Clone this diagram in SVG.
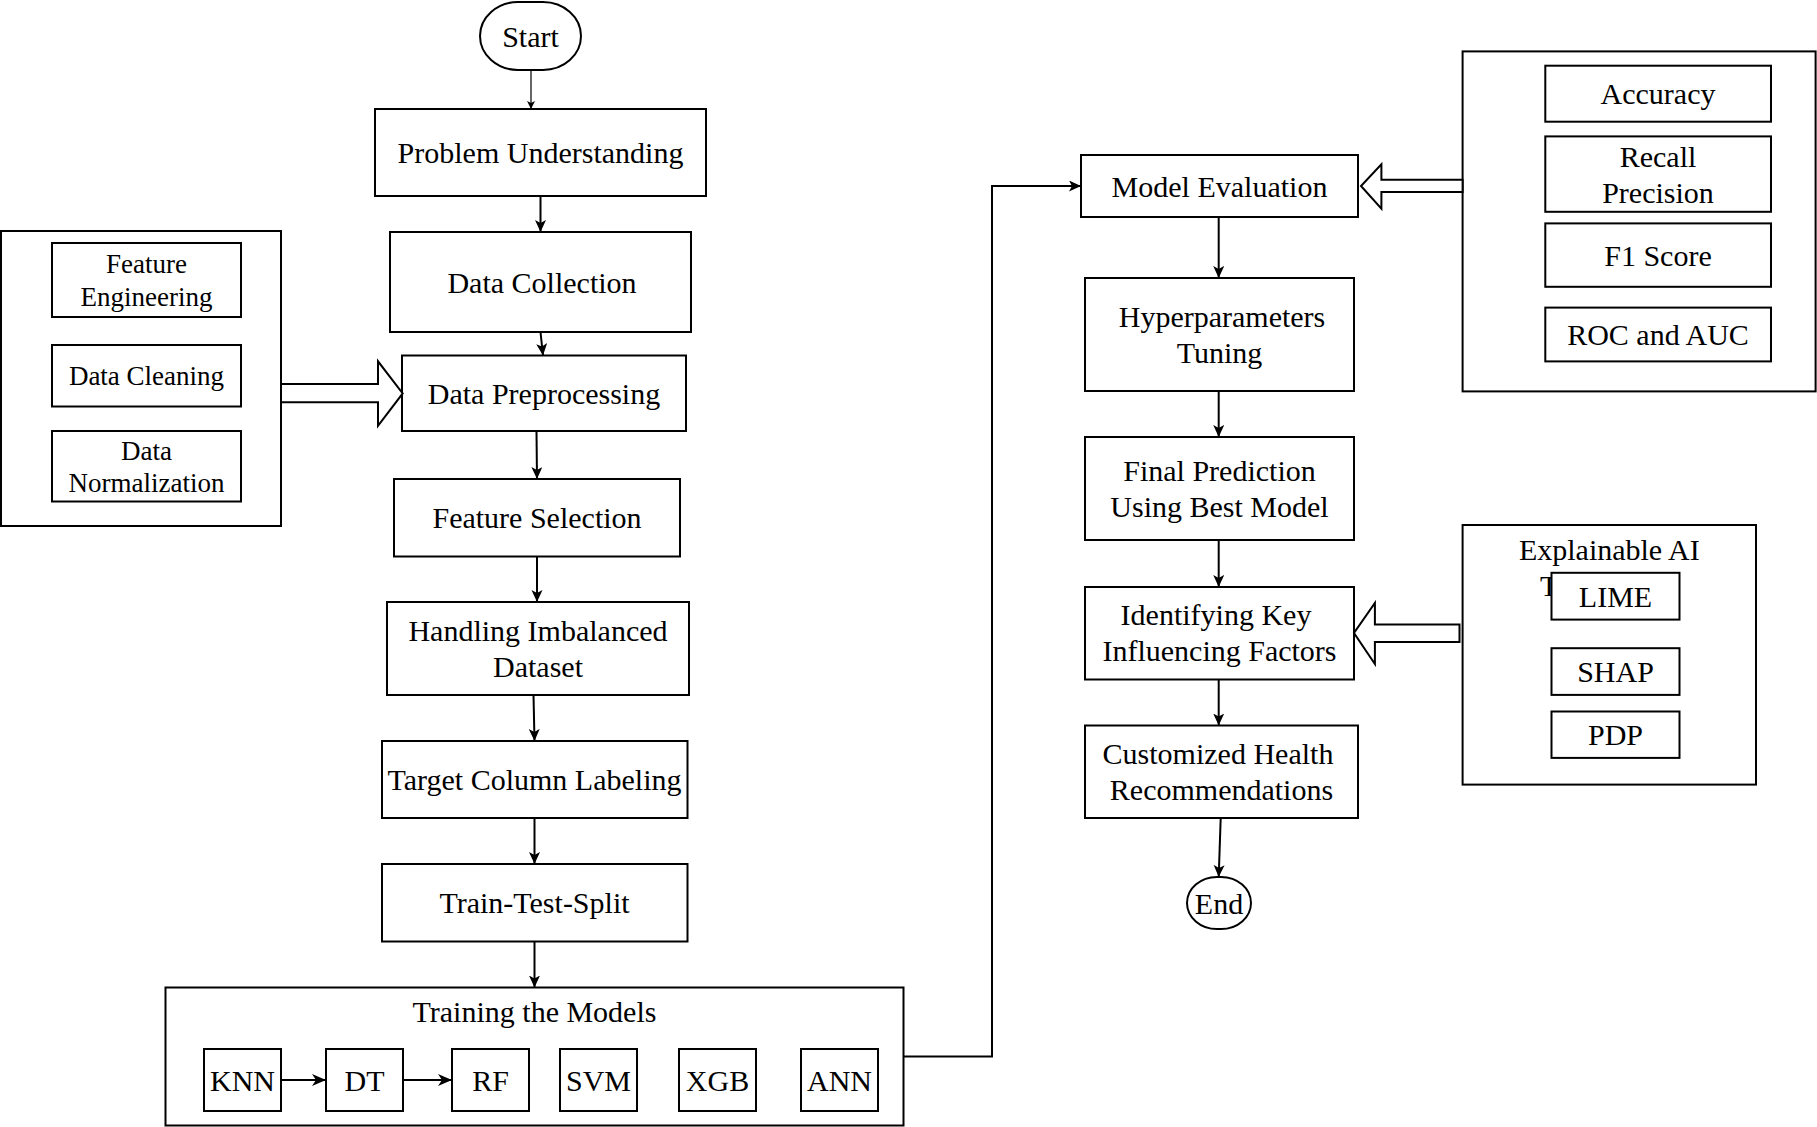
<svg xmlns="http://www.w3.org/2000/svg" width="1817" height="1127" viewBox="0 0 1817 1127">
<style>
.b{fill:#fff;stroke:#000;stroke-width:2}
.t{font-family:"Liberation Serif","Times New Roman",serif;font-size:30px;fill:#000;text-anchor:middle}
.s{font-size:27px}
.c{fill:none;stroke:#000;stroke-width:2}
.thin{fill:none;stroke:#000;stroke-width:1.2}
.h{fill:#fff;stroke:#000;stroke-width:2;stroke-linejoin:miter}
</style>
<defs>
<marker id="a" markerUnits="userSpaceOnUse" markerWidth="13" markerHeight="12" refX="12" refY="5.5" orient="auto">
<path d="M0,0 L12,5.5 L0,11 L3,5.5 Z" fill="#000"/>
</marker>
<marker id="as" markerUnits="userSpaceOnUse" markerWidth="9" markerHeight="9" refX="8" refY="4" orient="auto">
<path d="M0,0 L8,4 L0,8 L2,4 Z" fill="#000"/>
</marker>
<marker id="al" markerUnits="userSpaceOnUse" markerWidth="15" markerHeight="13" refX="14" refY="6" orient="auto">
<path d="M0,0 L14,6 L0,12 L4,6 Z" fill="#000"/>
</marker>
</defs>

<g id="start"><rect class="b" x="480" y="2" width="101" height="68" rx="38" ry="34"/><text class="t" x="530.5" y="46.5">Start</text></g>
<g id="problem-understanding"><rect class="b" x="375" y="109" width="331" height="87"/><text class="t" x="540.5" y="163">Problem Understanding</text></g>
<g id="data-collection"><rect class="b" x="390" y="232" width="301" height="100"/><text class="t" x="542" y="292.5">Data Collection</text></g>
<g id="data-preprocessing"><rect class="b" x="402" y="355.5" width="284" height="75.5"/><text class="t" x="544" y="403.5">Data Preprocessing</text></g>
<g id="feature-selection"><rect class="b" x="394" y="479" width="286" height="77.5"/><text class="t" x="537" y="528">Feature Selection</text></g>
<g id="handling-imbalanced"><rect class="b" x="387" y="602" width="302" height="93"/><text class="t" x="538" y="640.5">Handling Imbalanced</text><text class="t" x="538" y="676.5">Dataset</text></g>
<g id="target-column"><rect class="b" x="382" y="741" width="305.5" height="77"/><text class="t" x="534.5" y="790">Target Column Labeling</text></g>
<g id="train-test-split"><rect class="b" x="382" y="864" width="305.5" height="77.5"/><text class="t" x="534.5" y="913">Train-Test-Split</text></g>

<g id="training-models">
<rect class="b" x="165.5" y="987.5" width="738" height="138"/>
<text class="t" x="534.5" y="1022">Training the Models</text>
</g>
<g id="knn"><rect class="b" x="204" y="1049" width="77" height="62"/><text class="t" x="242.5" y="1090.5">KNN</text></g>
<g id="dt"><rect class="b" x="326" y="1049" width="77" height="62"/><text class="t" x="364.5" y="1090.5">DT</text></g>
<g id="rf"><rect class="b" x="452" y="1049" width="77" height="62"/><text class="t" x="490.5" y="1090.5">RF</text></g>
<g id="svm"><rect class="b" x="560" y="1049" width="77" height="62"/><text class="t" x="598.5" y="1090.5">SVM</text></g>
<g id="xgb"><rect class="b" x="679" y="1049" width="77" height="62"/><text class="t" x="717.5" y="1090.5">XGB</text></g>
<g id="ann"><rect class="b" x="801" y="1049" width="77" height="62"/><text class="t" x="839.5" y="1090.5">ANN</text></g>

<g id="preprocessing-steps">
<rect class="b" x="1" y="231" width="280" height="295"/>
</g>
<g id="feature-engineering"><rect class="b" x="52" y="243" width="189" height="74"/><text class="t s" x="146.5" y="273">Feature</text><text class="t s" x="146.5" y="306">Engineering</text></g>
<g id="data-cleaning"><rect class="b" x="52" y="345" width="189" height="61.5"/><text class="t s" x="146.5" y="385">Data Cleaning</text></g>
<g id="data-normalization"><rect class="b" x="52" y="431" width="189" height="70.5"/><text class="t s" x="146.5" y="459.5">Data</text><text class="t s" x="146.5" y="492">Normalization</text></g>

<g id="model-evaluation"><rect class="b" x="1081" y="155" width="277" height="62"/><text class="t" x="1219.5" y="196.5">Model Evaluation</text></g>
<g id="hyperparameters"><rect class="b" x="1085" y="278" width="269" height="113"/><text class="t" x="1222" y="326.5">Hyperparameters</text><text class="t" x="1219.5" y="362.5">Tuning</text></g>
<g id="final-prediction"><rect class="b" x="1085" y="437" width="269" height="103"/><text class="t" x="1219.5" y="480.5">Final Prediction</text><text class="t" x="1219.5" y="516.5">Using Best Model</text></g>
<g id="key-factors"><rect class="b" x="1085" y="587" width="269" height="92.5"/><text class="t" x="1216" y="625">Identifying Key</text><text class="t" x="1219.5" y="661">Influencing Factors</text></g>
<g id="recommendations"><rect class="b" x="1085" y="725.5" width="273" height="92.5"/><text class="t" x="1218" y="763.5">Customized Health</text><text class="t" x="1221.5" y="799.5">Recommendations</text></g>
<g id="end"><rect class="b" x="1187" y="877" width="64" height="52" rx="30" ry="26"/><text class="t" x="1219" y="913.5">End</text></g>

<g id="metrics">
<rect class="b" x="1462.6" y="51.4" width="353" height="340"/>
</g>
<g id="accuracy"><rect class="b" x="1545.3" y="65.7" width="225.7" height="56"/><text class="t" x="1658" y="104">Accuracy</text></g>
<g id="recall-precision"><rect class="b" x="1545.3" y="136.4" width="225.7" height="75.4"/><text class="t" x="1658" y="167">Recall</text><text class="t" x="1658" y="203">Precision</text></g>
<g id="f1-score"><rect class="b" x="1545.3" y="223.4" width="225.7" height="63.4"/><text class="t" x="1658" y="265.5">F1 Score</text></g>
<g id="roc-auc"><rect class="b" x="1545.3" y="307.6" width="225.7" height="53.8"/><text class="t" x="1658" y="345">ROC and AUC</text></g>

<g id="xai">
<rect class="b" x="1462.6" y="525" width="293.4" height="259.6"/>
<text class="t" x="1609.3" y="559.6">Explainable AI</text>
<text class="t" x="1540" y="595.5" style="text-anchor:start">T</text>
</g>
<g id="lime"><rect class="b" x="1551.5" y="572.8" width="128" height="46.8"/><text class="t" x="1615.5" y="606.5">LIME</text></g>
<g id="shap"><rect class="b" x="1551.5" y="648.2" width="128" height="46.7"/><text class="t" x="1615.5" y="682">SHAP</text></g>
<g id="pdp"><rect class="b" x="1551.5" y="711.5" width="128" height="46.4"/><text class="t" x="1615.5" y="745">PDP</text></g>

<g id="connectors">
<line class="thin" x1="531" y1="70" x2="531" y2="109" marker-end="url(#as)"/>
<line class="c" x1="540.5" y1="196" x2="540.5" y2="232" marker-end="url(#a)"/>
<line class="c" x1="540.5" y1="332" x2="543" y2="355.5" marker-end="url(#a)"/>
<line class="c" x1="536.5" y1="431" x2="537" y2="479" marker-end="url(#a)"/>
<line class="c" x1="537" y1="556.5" x2="537" y2="602" marker-end="url(#a)"/>
<line class="c" x1="533.5" y1="695" x2="534.5" y2="741" marker-end="url(#a)"/>
<line class="c" x1="534.5" y1="818" x2="534.5" y2="864" marker-end="url(#a)"/>
<line class="c" x1="534.5" y1="941.5" x2="534.5" y2="987.5" marker-end="url(#a)"/>
<line class="c" x1="281" y1="1080" x2="326" y2="1080" stroke-width="2.5" marker-end="url(#al)"/>
<line class="c" x1="403" y1="1080" x2="452" y2="1080" stroke-width="2.5" marker-end="url(#al)"/>
<path class="c" d="M903.5,1056.5 H992 V186 H1081" marker-end="url(#a)"/>
<line class="c" x1="1218.7" y1="217" x2="1218.7" y2="278" marker-end="url(#a)"/>
<line class="c" x1="1218.7" y1="391" x2="1218.7" y2="437" marker-end="url(#a)"/>
<line class="c" x1="1218.7" y1="540" x2="1218.7" y2="587" marker-end="url(#a)"/>
<line class="c" x1="1218.7" y1="679.5" x2="1218.7" y2="725.5" marker-end="url(#a)"/>
<line class="c" x1="1220.7" y1="818" x2="1218.7" y2="877" marker-end="url(#a)"/>
<polygon class="h" points="281,384 378,384 378,361.3 402.7,393.4 378,425.9 378,402.3 281,402.3"/>
<polygon class="h" points="1462.6,179.7 1381.4,179.7 1381.4,164.3 1361,186 1381.4,208.7 1381.4,192 1462.6,192"/>
<polygon class="h" points="1459.5,624.6 1374.9,624.6 1374.9,602.9 1354,633 1374.9,664 1374.9,642 1459.5,642"/>
</g>
</svg>
